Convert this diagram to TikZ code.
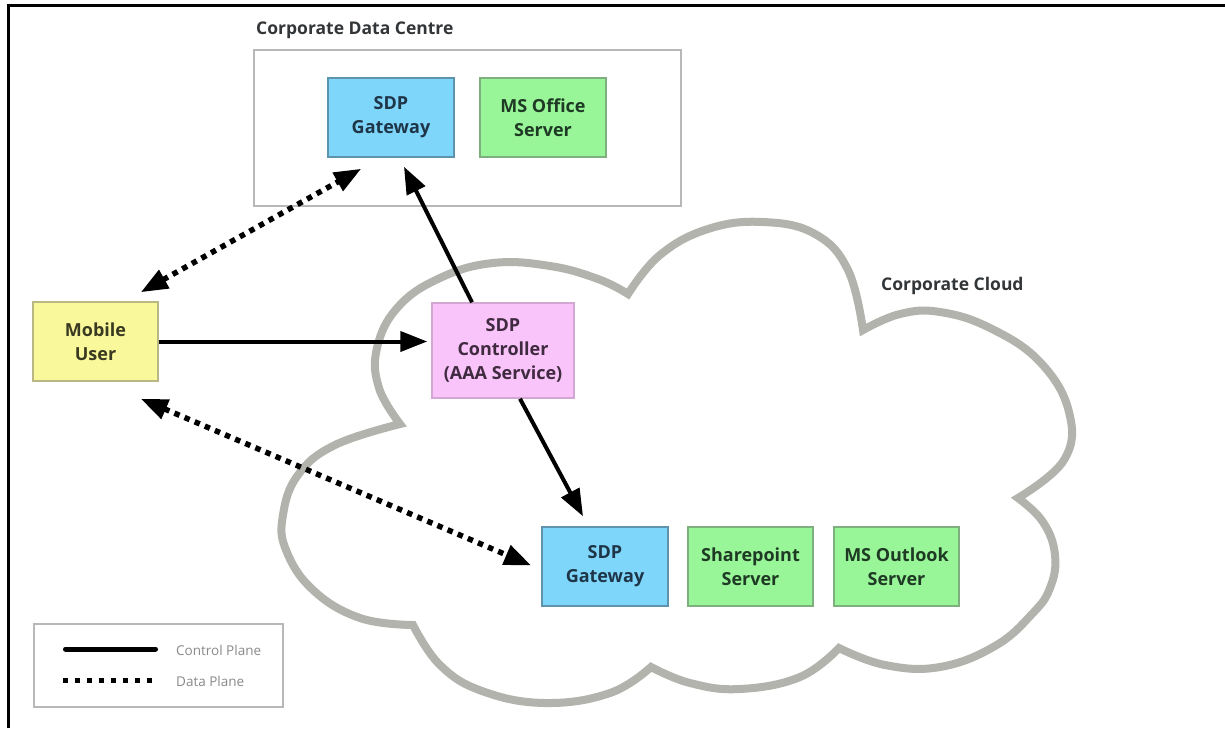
\documentclass[tikz,border=0pt]{standalone}
\usepackage{fontspec}
\setmainfont{Open Sans}
\usetikzlibrary{arrows.meta,calc}
\definecolor{gwfill}{HTML}{7FD6FB}
\definecolor{gwline}{HTML}{5E93AD}
\definecolor{gwtext}{HTML}{1E3547}
\definecolor{grfill}{HTML}{98F598}
\definecolor{grline}{HTML}{7FAE7F}
\definecolor{grtext}{HTML}{1F3A24}
\definecolor{pkfill}{HTML}{F9C4F9}
\definecolor{pkline}{HTML}{D2A8D2}
\definecolor{pktext}{HTML}{3F2A40}
\definecolor{ylfill}{HTML}{F9F89B}
\definecolor{ylline}{HTML}{B9B884}
\definecolor{yltext}{HTML}{3A3A22}
\definecolor{cloudgray}{HTML}{B2B3AC}
\definecolor{boxgray}{HTML}{B8B8B8}
\definecolor{labeltext}{HTML}{333638}
\definecolor{legtext}{HTML}{8A8A8A}
\tikzset{
  sysbox/.style={draw, line width=1.5pt, minimum width=126pt, minimum height=79pt,
    inner sep=0pt, align=center, font=\fontsize{18}{24}\selectfont\bfseries},
  gwbox/.style={sysbox, fill=gwfill, draw=gwline, text=gwtext},
  grbox/.style={sysbox, fill=grfill, draw=grline, text=grtext},
  pkbox/.style={sysbox, fill=pkfill, draw=pkline, text=pktext, minimum width=142pt, minimum height=95pt},
  ylbox/.style={sysbox, fill=ylfill, draw=ylline, text=yltext, minimum width=125pt},
  grouplabel/.style={font=\fontsize{17.5}{21}\selectfont\bfseries, text=labeltext, inner sep=0pt},
  ctrlplane/.style={line width=4pt, -{Triangle[length=27pt,width=20pt]}},
  dataplane/.style={line width=5.5pt, dash pattern=on 5.5pt off 5.5pt,
    {Triangle[length=27pt,width=20pt]}-{Triangle[length=27pt,width=20pt]}},
  cloudline/.style={draw=cloudgray, line width=8pt, line join=miter, miter limit=20},
  legendtext/.style={font=\fontsize{13.5}{16}\selectfont, text=legtext, anchor=west, inner sep=0pt}
}
\begin{document}
\begin{tikzpicture}[x=1pt,y=-1pt]
\useasboundingbox (0,0) rectangle (1225,728);
\fill[white] (0,0) rectangle (1225,728);
% frame (left and top edges)
\draw[line width=3.5pt] (8.5,728) -- (8.5,5.5) -- (1225,5.5);

% cloud
\draw[cloudline]
  plot[smooth, tension=0.7] coordinates {(400,424) (379,388) (377,348) (398,307) (440,278) (493,263) (550,266) (598,279) (628,294)}
  -- plot[smooth, tension=0.7] coordinates {(628,294) (660,255) (708,229) (763,222) (815,234) (848,270) (863,330)}
  -- plot[smooth, tension=0.7] coordinates {(863,330) (900,314) (940,312) (990,328) (1040,362) (1069,412) (1064,460) (1018,498)}
  -- plot[smooth, tension=0.7] coordinates {(1018,498) (1043,522) (1055,555) (1050,588) (1032,614) (995,646) (940,667) (885,665) (839,648)}
  -- plot[smooth, tension=0.7] coordinates {(839,648) (800,677) (740,689) (690,683) (651,667)}
  -- plot[smooth, tension=0.7] coordinates {(651,667) (610,693) (545,703) (482,691) (440,665) (413,625)}
  -- plot[smooth, tension=0.7] coordinates {(413,625) (360,618) (313,590) (286,550) (283,515) (298,475) (335,445) (400,424)}
  -- cycle;

% data centre group
\draw[boxgray, line width=2pt] (254,50) rectangle (681,206);
\node[grouplabel, anchor=west] (dclabel) at (256,30) {Corporate Data Centre};
\node[grouplabel, anchor=west] (cloudlabel) at (881,286) {Corporate Cloud};

% nodes
\node[gwbox] (gw1) at (391,117.5) {SDP\\Gateway};
\node[grbox] (ms) at (543,117.5) {MS Office\\Server};
\node[ylbox] (mu) at (95.5,341.5) {Mobile\\User};
\node[pkbox] (ctrl) at (503,350.5) {SDP\\Controller\\(AAA Service)};
\node[gwbox] (gw2) at (605,566.5) {SDP\\Gateway};
\node[grbox, minimum width=125pt] (sp) at (750.5,566.5) {Sharepoint\\Server};
\node[grbox, minimum width=125pt] (ol) at (896.5,566.5) {MS Outlook\\Server};

% control plane
\draw[ctrlplane, shorten >=4pt] (mu.east) -- (mu.east -| ctrl.west);
\draw[ctrlplane] ($(ctrl.north)+(-31,0)$) -- ($(gw1.south)+(13,9)$);
\draw[ctrlplane] ($(ctrl.south)+(17,0)$) -- ($(gw2.north)+(-22,-10)$);

% data plane
\draw[dataplane] ($(mu.north east)+(-18,-9)$) -- ($(gw1.south west)+(34,11)$);
\draw[dataplane] ($(mu.south east)+(-18,17)$) -- ($(gw2.west)+(-10,-1)$);

% legend
\draw[boxgray, line width=1.5pt] (34,624) rectangle (283,707);
\coordinate (ls1) at (63,649);
\coordinate (le1) at (158,649);
\coordinate (ls2) at (63,680);
\coordinate (le2) at (158,680);
\draw[line width=5pt, line cap=round] ($(ls1)+(2.5,0)$) -- ($(le1)+(-2.5,0)$);
\draw[line width=5pt, dash pattern=on 5pt off 7pt] (ls2) -- (le2);
\node[legendtext] (lt1) at (176,650) {Control Plane};
\node[legendtext] (lt2) at (176,681) {Data Plane};
\end{tikzpicture}
\end{document}
